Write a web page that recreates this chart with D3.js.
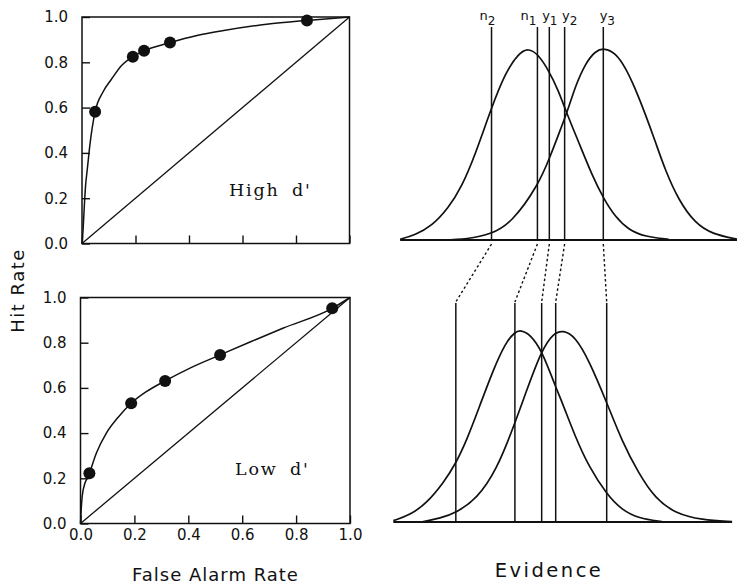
<!DOCTYPE html>
<html>
<head>
<meta charset="utf-8">
<script src="https://cdn.jsdelivr.net/npm/d3@7"></script>
<style>
  body { margin: 0; background: #fff; }
  svg { display: block; }
</style>
</head>
<body>
<svg id="chart" width="737" height="586"></svg>
<script>
// ---------- ROC data: observed points ----------
const highFalseAlarm = [0.049, 0.190, 0.232, 0.329, 0.841];
const highHit        = [0.582, 0.825, 0.851, 0.887, 0.985];
const lowFalseAlarm  = [0.033, 0.188, 0.314, 0.518, 0.934];
const lowHit         = [0.222, 0.532, 0.631, 0.746, 0.952];

// ---------- ROC data: fitted curves ----------
const highCurveFA  = [0, 0.004, 0.008, 0.013, 0.020, 0.030, 0.049, 0.079, 0.110, 0.147, 0.190, 0.232, 0.329, 0.430, 0.530, 0.690, 0.840, 1.0];
const highCurveHit = [0, 0.060, 0.150, 0.250, 0.330, 0.440, 0.582, 0.670, 0.725, 0.785, 0.825, 0.851, 0.887, 0.918, 0.940, 0.968, 0.985, 1.0];
const lowCurveFA   = [0, 0.004, 0.010, 0.033, 0.059, 0.096, 0.139, 0.188, 0.244, 0.314, 0.410, 0.518, 0.629, 0.753, 0.934, 1.0];
const lowCurveHit  = [0, 0.089, 0.150, 0.222, 0.312, 0.400, 0.469, 0.532, 0.583, 0.631, 0.690, 0.746, 0.803, 0.865, 0.952, 1.0];

const rateTicks = [0, 0.2, 0.4, 0.6, 0.8, 1.0];

// ---------- evidence distributions (evidence units, relative density) ----------
const highNoiseEvidence = [-3.02, -2.67, -2.28, -1.89, -1.57, -1.26, -0.87, -0.55, -0.24, 0.0, 0.23, 0.47, 0.70, 0.90, 1.18, 1.49, 1.77, 2.04, 2.36, 2.75, 3.30];
const highNoiseDensity  = [0.004, 0.026, 0.073, 0.165, 0.278, 0.440, 0.690, 0.868, 0.972, 1.0, 0.966, 0.885, 0.781, 0.660, 0.510, 0.340, 0.214, 0.121, 0.052, 0.017, 0.004];
const highSignalEvidence = [-2.12, -1.42, -0.87, -0.40, 0.23, 0.51, 0.70, 0.94, 1.10, 1.34, 1.57, 1.79, 2.04, 2.28, 2.51, 2.75, 2.98, 3.22, 3.53, 3.92, 4.32, 4.91];
const highSignalDensity  = [0.0, 0.004, 0.031, 0.089, 0.285, 0.435, 0.545, 0.685, 0.800, 0.920, 0.985, 1.0, 0.975, 0.900, 0.790, 0.655, 0.515, 0.362, 0.208, 0.087, 0.031, 0.004];

const lowNoiseEvidence = [-3.18, -2.79, -2.40, -2.00, -1.73, -1.45, -1.14, -0.83, -0.55, -0.32, -0.18, 0.04, 0.31, 0.64, 0.79, 1.10, 1.42, 1.85, 2.20, 2.59, 3.14];
const lowNoiseDensity  = [0.007, 0.036, 0.097, 0.205, 0.297, 0.427, 0.610, 0.792, 0.931, 0.990, 1.0, 0.977, 0.896, 0.702, 0.625, 0.444, 0.288, 0.141, 0.063, 0.019, 0.002];
const lowSignalEvidence = [-2.48, -2.08, -1.69, -1.22, -0.75, -0.32, -0.04, 0.31, 0.58, 0.82, 1.10, 1.42, 1.85, 2.20, 2.59, 2.98, 3.45, 4.08, 4.79];
const lowSignalDensity  = [0.002, 0.019, 0.050, 0.120, 0.270, 0.514, 0.688, 0.896, 0.983, 1.0, 0.965, 0.844, 0.618, 0.420, 0.254, 0.123, 0.045, 0.010, 0.002];

// ---------- decision criteria ----------
const criterionLetters = ["n", "n", "y", "y", "y"];
const criterionIndices = ["2", "1", "1", "2", "3"];
const highCriteria = [-0.87, 0.21, 0.49, 0.85, 1.76];
const lowCriteria  = [-1.71, -0.32, 0.31, 0.64, 1.84];

// ---------- drawing ----------
const INK = "#111";
const svg = d3.select("#chart");
const zip = (a, b) => a.map((v, i) => [v, b[i]]);

function drawRoc(xRange, yRange, curveFA, curveHit, ptFA, ptHit, title, titleX, titleY, showXLabels) {
  const x = d3.scaleLinear().domain([0, 1]).range(xRange);
  const y = d3.scaleLinear().domain([0, 1]).range(yRange);
  const g = svg.append("g");

  const yAxis = d3.axisLeft(y).tickValues(rateTicks).tickSize(-8).tickSizeOuter(0)
    .tickPadding(14).tickFormat(d3.format(".1f"));
  const xAxis = d3.axisBottom(x).tickValues(rateTicks).tickSize(-8).tickSizeOuter(0)
    .tickPadding(6).tickFormat(showXLabels ? d3.format(".1f") : () => "");

  const ya = g.append("g").attr("transform", `translate(${xRange[0]},0)`).call(yAxis);
  const xa = g.append("g").attr("transform", `translate(0,${yRange[0]})`).call(xAxis);
  [ya, xa].forEach(a => {
    a.select(".domain").remove();
    a.selectAll("line").attr("stroke", INK).attr("stroke-width", 1.4);
    a.selectAll("text").attr("fill", INK)
      .attr("font-family", "DejaVu Sans, sans-serif").attr("font-size", 15);
  });

  // frame
  g.append("rect")
    .attr("x", xRange[0]).attr("y", yRange[1])
    .attr("width", xRange[1] - xRange[0]).attr("height", yRange[0] - yRange[1])
    .attr("fill", "none").attr("stroke", INK).attr("stroke-width", 1.5);

  // chance diagonal
  g.append("line")
    .attr("x1", x(0)).attr("y1", y(0)).attr("x2", x(1)).attr("y2", y(1))
    .attr("stroke", INK).attr("stroke-width", 1.3);

  // fitted ROC
  g.append("path")
    .datum(zip(curveFA, curveHit))
    .attr("d", d3.line().x(d => x(d[0])).y(d => y(d[1])).curve(d3.curveMonotoneX))
    .attr("fill", "none").attr("stroke", INK).attr("stroke-width", 1.5);

  // observed points
  g.selectAll("circle.pt").data(zip(ptFA, ptHit)).join("circle")
    .attr("class", "pt")
    .attr("cx", d => x(d[0])).attr("cy", d => y(d[1])).attr("r", 6)
    .attr("fill", INK);

  g.append("text")
    .attr("x", titleX).attr("y", titleY)
    .attr("font-family", "DejaVu Serif, serif").attr("font-size", 17.5)
    .attr("letter-spacing", 1.8).attr("word-spacing", 5)
    .attr("fill", INK)
    .text(title);
}

drawRoc([82, 349.5], [243.5, 17], highCurveFA, highCurveHit, highFalseAlarm, highHit, "High d'", 229, 196, false);
drawRoc([80.5, 350], [523.5, 297.5], lowCurveFA, lowCurveHit, lowFalseAlarm, lowHit, "Low d'", 235, 475, true);

// evidence axis shared by both distribution panels
const evX = d3.scaleLinear().domain([-3, 5]).range([401, 741]);

function drawDistributions(yRange, nE, nD, sE, sD, criteria, lineTop) {
  const y = d3.scaleLinear().domain([0, 1]).range(yRange);
  const g = svg.append("g");
  const ext = d3.extent(nE.concat(sE));

  g.append("line")
    .attr("x1", evX(ext[0])).attr("x2", evX(ext[1]))
    .attr("y1", y(0)).attr("y2", y(0))
    .attr("stroke", INK).attr("stroke-width", 2);

  const line = d3.line().x(d => evX(d[0])).y(d => y(d[1])).curve(d3.curveBasis);
  [[nE, nD], [sE, sD]].forEach(([e, d]) => {
    g.append("path").datum(zip(e, d)).attr("d", line)
      .attr("fill", "none").attr("stroke", INK).attr("stroke-width", 1.7);
  });

  g.selectAll("line.crit").data(criteria).join("line")
    .attr("class", "crit")
    .attr("x1", d => evX(d)).attr("x2", d => evX(d))
    .attr("y1", lineTop).attr("y2", y(0))
    .attr("stroke", INK).attr("stroke-width", 1.5);
  return y;
}

drawDistributions([240, 48], highNoiseEvidence, highNoiseDensity, highSignalEvidence, highSignalDensity, highCriteria, 27);
drawDistributions([522, 330], lowNoiseEvidence, lowNoiseDensity, lowSignalEvidence, lowSignalDensity, lowCriteria, 303);

// criterion labels above the upper panel
const labelShift = [-4, -9, 0.5, 5, 4];
const labels = svg.append("g")
  .attr("font-family", "DejaVu Sans, sans-serif").attr("fill", INK).attr("text-anchor", "middle");
highCriteria.forEach((c, i) => {
  const t = labels.append("text")
    .attr("x", evX(c) + labelShift[i]).attr("y", 19.5).attr("font-size", 13);
  t.append("tspan").text(criterionLetters[i]);
  t.append("tspan").attr("font-size", 12).attr("dy", 5.5).text(criterionIndices[i]);
});

// dotted links between matching criteria in the two panels
svg.append("g").selectAll("line").data(highCriteria.map((c, i) => [c, lowCriteria[i]])).join("line")
  .attr("x1", d => evX(d[0])).attr("y1", 244)
  .attr("x2", d => evX(d[1])).attr("y2", 302)
  .attr("stroke", INK).attr("stroke-width", 1.4).attr("stroke-dasharray", "2.5,2.5");

// axis titles
svg.append("text")
  .attr("transform", "translate(24,290.5) rotate(-90)")
  .attr("text-anchor", "middle")
  .attr("font-family", "DejaVu Sans, sans-serif").attr("font-size", 18)
  .attr("letter-spacing", 1.5).attr("fill", INK)
  .text("Hit Rate");

svg.append("text")
  .attr("x", 215.5).attr("y", 581).attr("text-anchor", "middle")
  .attr("font-family", "DejaVu Sans, sans-serif").attr("font-size", 18)
  .attr("letter-spacing", 1).attr("fill", INK)
  .text("False Alarm Rate");

svg.append("text")
  .attr("x", 549).attr("y", 577).attr("text-anchor", "middle")
  .attr("font-family", "DejaVu Sans, sans-serif").attr("font-size", 19.5)
  .attr("letter-spacing", 2.5).attr("fill", INK)
  .text("Evidence");
</script>
</body>
</html>
